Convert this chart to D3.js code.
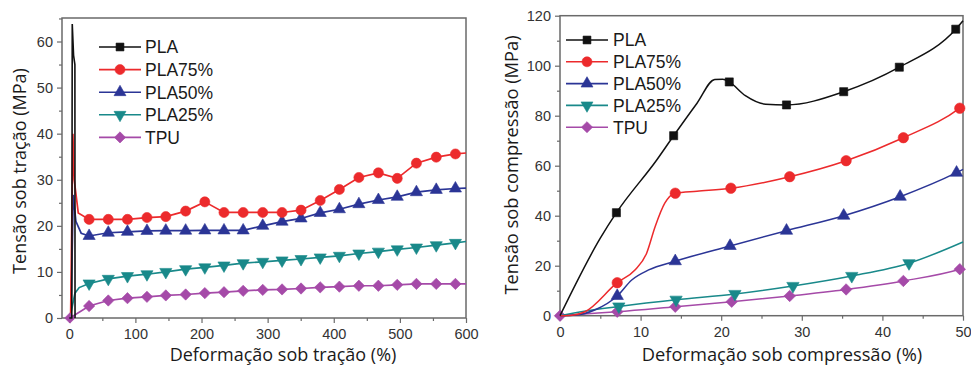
<!DOCTYPE html>
<html>
<head>
<meta charset="utf-8">
<script src="https://cdn.jsdelivr.net/npm/d3@7"></script>
<style>
  html, body { margin: 0; padding: 0; background: #fff; }
  svg { display: block; }
</style>
</head>
<body>
<svg id="chart" width="971" height="369"></svg>
<script>
// ---------------- DATA: tensile (left panel) ----------------
const seriesNames = ["PLA", "PLA75%", "PLA50%", "PLA25%", "TPU"];
const seriesColors = ["#111111", "#ec2a2c", "#2b3596", "#19898a", "#a54aa8"];
const seriesSymbols = ["square", "circle", "triangleUp", "triangleDown", "diamond"];

const tensXTicks = [0, 100, 200, 300, 400, 500, 600];
const tensYTicks = [0, 10, 20, 30, 40, 50, 60];

// marker strain positions (%)
const tensStrain = [30, 59, 88, 117.5, 146, 176, 205, 234, 263, 292.6, 321.8, 350.5, 379.5, 408.5, 438, 467.5, 496, 525, 555, 584];
const tensPLA75 = [21.4, 21.4, 21.4, 21.8, 22.0, 23.2, 25.2, 22.9, 22.9, 22.9, 22.9, 23.4, 25.5, 27.9, 30.5, 31.5, 30.3, 33.6, 34.9, 35.6];
const tensPLA50 = [17.8, 18.5, 18.7, 18.9, 18.95, 18.95, 19.0, 19.0, 19.0, 20.0, 20.9, 21.6, 22.8, 23.6, 24.7, 25.6, 26.3, 27.3, 27.8, 28.1];
const tensPLA25 = [7.5, 8.5, 9.1, 9.5, 10.0, 10.6, 11.0, 11.4, 11.9, 12.2, 12.5, 12.8, 13.15, 13.5, 14.0, 14.4, 14.9, 15.3, 15.8, 16.3];
const tensTPU   = [2.6, 3.8, 4.3, 4.6, 4.9, 5.1, 5.4, 5.6, 5.9, 6.1, 6.2, 6.4, 6.65, 6.8, 7.0, 7.0, 7.2, 7.4, 7.4, 7.4];

// initial yield region (no markers): [strain, stress]
const tensPLAPath   = [[0, 0], [3.8, 0], [4.5, 63.8], [6.5, 57], [8.5, 55], [8.7, 0]];
const tensPLA75Head = [[0, 0], [2, 0], [5.5, 40], [7.5, 30], [13.6, 22.8]];
const tensPLA50Head = [[0, 0], [2.5, 0], [6, 26.7], [10, 21], [18, 18.4]];
const tensPLA25Head = [[1, 0], [8.6, 5.4], [15, 6.6]];
const tensTPUHead   = [[1, 0]];
// line ends at right border
const tensTailX = 600;
const tensTails = [null, 35.8, 28.2, 16.6, 7.4];

// ---------------- DATA: compression (right panel) ----------------
const compXTicks = [0, 10, 20, 30, 40, 50];
const compYTicks = [0, 20, 40, 60, 80, 100, 120];

const compPLAMarks   = [[7, 41.2], [14.1, 72], [21, 93.5], [28.1, 84.3], [35.2, 89.6], [42.1, 99.4], [49.1, 114.6]];
const compPLA75Marks = [[7.1, 13.2], [14.3, 49], [21.2, 51], [28.5, 55.6], [35.5, 62], [42.6, 71.2], [49.6, 83]];
const compPLA50Marks = [[7.1, 7.9], [14.3, 21.8], [21.1, 27.9], [28.1, 34], [35.2, 40], [42.2, 47.6], [49.2, 57.2]];
const compPLA25Marks = [[7.3, 3.7], [14.4, 6.4], [21.7, 8.7], [28.9, 11.9], [36.2, 15.9], [43.3, 21]];
const compTPUMarks   = [[0, 0], [7.1, 1.6], [14.3, 3.6], [21.3, 5.6], [28.5, 7.9], [35.5, 10.5], [42.6, 13.9], [49.6, 18.6]];

// curve shape points read between markers
const compPLACurve   = [[0, 0], [5, 31], [7, 41.2], [12, 62.3], [14.1, 72], [17, 85], [19.2, 94.5], [20.2, 94.6], [21, 93.5], [23, 88], [25.5, 84.6], [28.1, 84.3], [35.2, 89.6], [42.1, 99.4], [49.1, 114.6], [50, 118]];
const compPLA75Curve = [[0, 0], [1.5, 0.2], [3.1, 1.6], [7.1, 13.2], [9.3, 18.3], [10.75, 25], [11.8, 35.6], [13, 45], [14.3, 49], [17, 49.8], [21.2, 51], [28.5, 55.6], [35.5, 62], [42.6, 71.2], [49.6, 83], [50, 84]];
const compPLA50Curve = [[0, 0], [2, 0.3], [4.3, 2.3], [7.1, 7.9], [8.9, 14.3], [11, 18.3], [14.3, 21.8], [21.1, 27.9], [28.1, 34], [35.2, 40], [42.2, 47.6], [49.2, 57.2], [50, 58.5]];
const compPLA25Curve = [[0, 0], [3, 1.8], [7.3, 3.7], [14.4, 6.4], [21.7, 8.7], [28.9, 11.9], [36.2, 15.9], [43.3, 21], [50, 29.5]];
const compTPUCurve   = [[0, 0], [3, 0.7], [7.1, 1.6], [14.3, 3.6], [21.3, 5.6], [28.5, 7.9], [35.5, 10.5], [42.6, 13.9], [49.6, 18.6], [50, 19]];

// ---------------- DRAWING ----------------
const svg = d3.select("#chart");
const axisColor = "#6a6a6a";
const tickFont = "'Liberation Sans', Arial, sans-serif";
const titleFont = "'Open Sans', 'Noto Sans', sans-serif";

function symbolPath(kind, size) {
  switch (kind) {
    case "square": return d3.symbol(d3.symbolSquare, size)();
    case "circle": return d3.symbol(d3.symbolCircle, size)();
    case "triangleUp": return d3.symbol(d3.symbolTriangle, size)();
    case "triangleDown": return d3.symbol(d3.symbolTriangle, size)();
    case "diamond": return d3.symbol(d3.symbolSquare, size)();
  }
}
function symbolRot(kind) {
  if (kind === "triangleDown") return 180;
  if (kind === "diamond") return 45;
  return 0;
}
function drawMarker(g, kind, x, y, color, size) {
  g.append("path")
    .attr("d", symbolPath(kind, size))
    .attr("transform", `translate(${x},${y}) rotate(${symbolRot(kind)})`)
    .attr("fill", color)
    .attr("stroke", color)
    .attr("stroke-width", 0.6);
}

function drawFrame(g, x, y, cfg) {
  const [x0, x1] = x.range();
  const [y0, y1] = y.range();
  const xAxis = d3.axisBottom(x).tickValues(cfg.xTicks).tickSize(5).tickPadding(6).tickFormat(d3.format("d"));
  const yAxis = d3.axisLeft(y).tickValues(cfg.yTicks).tickSize(5).tickPadding(4).tickFormat(d3.format("d"));
  const gx = g.append("g").attr("transform", `translate(0,${y0})`).call(xAxis);
  const gy = g.append("g").attr("transform", `translate(${x0},0)`).call(yAxis);
  const gxm = g.append("g").attr("transform", `translate(0,${y0})`)
    .call(d3.axisBottom(x).tickValues(cfg.xMinor).tickSize(3).tickFormat(""));
  const gym = g.append("g").attr("transform", `translate(${x0},0)`)
    .call(d3.axisLeft(y).tickValues(cfg.yMinor).tickSize(3).tickFormat(""));
  [gx, gy, gxm, gym].forEach(a => {
    a.select(".domain").remove();
    a.selectAll(".tick line").attr("stroke", axisColor).attr("stroke-width", 1.2);
    a.selectAll("text").attr("font-family", tickFont).attr("font-size", 14.5).attr("fill", "#333");
  });
  g.append("rect")
    .attr("x", x0).attr("y", y1)
    .attr("width", x1 - x0).attr("height", y0 - y1)
    .attr("fill", "none").attr("stroke", axisColor).attr("stroke-width", 1.5);
}

function drawLegend(g, lx, ly, dy, textX) {
  seriesNames.forEach((name, i) => {
    const yy = ly + i * dy;
    g.append("line").attr("x1", lx - 21).attr("x2", lx + 21).attr("y1", yy).attr("y2", yy)
      .attr("stroke", seriesColors[i]).attr("stroke-width", 1.6);
    drawMarker(g, seriesSymbols[i], lx, yy, seriesColors[i], i === 1 ? 78 : 62);
    g.append("text").attr("x", textX).attr("y", yy).attr("dy", "0.36em")
      .attr("font-family", tickFont).attr("font-size", 17.5).attr("fill", "#1a1a1a")
      .text(name);
  });
}

// ---------- Left panel ----------
(function () {
  const x = d3.scaleLinear().domain([-11, 600]).range([62, 466]);
  const y = d3.scaleLinear().domain([0, 65.1]).range([318, 18]);
  const g = svg.append("g");
  drawFrame(g, x, y, {
    xTicks: tensXTicks, yTicks: tensYTicks,
    xMinor: tensXTicks.slice(0, -1).map((d, i) => (d + tensXTicks[i + 1]) / 2),
    yMinor: tensYTicks.map(d => d + 5)
  });
  const line = d3.line().x(d => x(d[0])).y(d => y(d[1]));
  const plot = g.append("g");
  const seriesVals = [null, tensPLA75, tensPLA50, tensPLA25, tensTPU];
  const heads = [null, tensPLA75Head, tensPLA50Head, tensPLA25Head, tensTPUHead];
  [4, 3, 2, 1].forEach(i => {
    const pts = heads[i].concat(tensStrain.map((s, k) => [s, seriesVals[i][k]]));
    pts.push([tensTailX, tensTails[i]]);
    plot.append("path").attr("d", line(pts)).attr("fill", "none")
      .attr("stroke", seriesColors[i]).attr("stroke-width", 1.7);
    tensStrain.forEach((s, k) => drawMarker(plot, seriesSymbols[i], x(s), y(seriesVals[i][k]), seriesColors[i], i === 1 ? 80 : 64));
  });
  drawMarker(plot, "diamond", x(tensTPUHead[0][0]), y(tensTPUHead[0][1]), seriesColors[4], 55);
  plot.append("path").attr("d", line(tensPLAPath)).attr("fill", "none")
    .attr("stroke", seriesColors[0]).attr("stroke-width", 1.6);

  drawLegend(g, 120, 47, 22.6, 145);

  g.append("text").attr("x", 283).attr("y", 361)
    .attr("text-anchor", "middle").attr("font-family", titleFont).attr("font-size", 18).attr("fill", "#1a1a1a")
    .text("Deformação sob tração (%)");
  g.append("text").attr("transform", "translate(26,171) rotate(-90)")
    .attr("text-anchor", "middle").attr("font-family", titleFont).attr("font-size", 18).attr("fill", "#1a1a1a")
    .text("Tensão sob tração (MPa)");
})();

// ---------- Right panel ----------
(function () {
  const x = d3.scaleLinear().domain([0, 50]).range([560, 963]);
  const y = d3.scaleLinear().domain([0, 120]).range([315.7, 15.7]);
  const g = svg.append("g");
  drawFrame(g, x, y, {
    xTicks: compXTicks, yTicks: compYTicks,
    xMinor: compXTicks.slice(0, -1).map(d => d + 5),
    yMinor: compYTicks.slice(0, -1).map(d => d + 10)
  });
  const line = d3.line().x(d => x(d[0])).y(d => y(d[1])).curve(d3.curveMonotoneX);
  const plot = g.append("g");
  const curves = [compPLACurve, compPLA75Curve, compPLA50Curve, compPLA25Curve, compTPUCurve];
  const marks = [compPLAMarks, compPLA75Marks, compPLA50Marks, compPLA25Marks, compTPUMarks];
  [4, 3, 2, 1, 0].forEach(i => {
    plot.append("path").attr("d", line(curves[i])).attr("fill", "none")
      .attr("stroke", seriesColors[i]).attr("stroke-width", 1.5);
    marks[i].forEach(d => drawMarker(plot, seriesSymbols[i], x(d[0]), y(d[1]), seriesColors[i], i === 1 ? 85 : 66));
  });

  drawLegend(g, 587, 40, 21.8, 613);

  g.append("text").attr("x", 782).attr("y", 361)
    .attr("text-anchor", "middle").attr("font-family", titleFont).attr("font-size", 18.3).attr("fill", "#1a1a1a")
    .text("Deformação sob compressão (%)");
  g.append("text").attr("transform", "translate(518,165) rotate(-90)")
    .attr("text-anchor", "middle").attr("font-family", titleFont).attr("font-size", 18.3).attr("fill", "#1a1a1a")
    .text("Tensão sob compressão (MPa)");
})();
</script>
</body>
</html>
